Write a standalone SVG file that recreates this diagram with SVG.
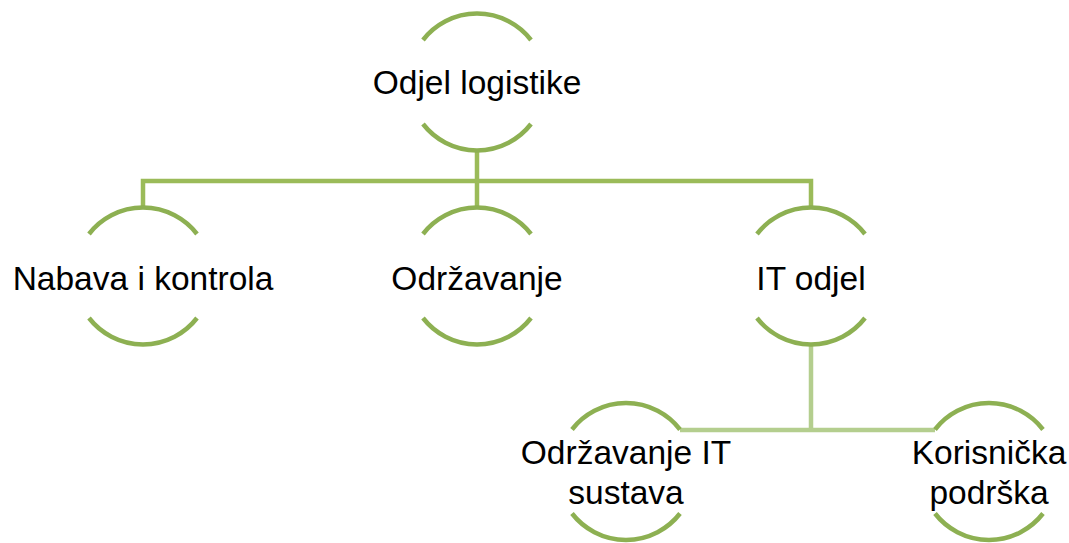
<svg xmlns="http://www.w3.org/2000/svg" width="1069" height="543" viewBox="0 0 1069 543">
<style>
.arc{fill:none;stroke:#8DB052;stroke-width:4.5}
.c1{fill:none;stroke:#9BBB59;stroke-width:4.5}
.c2{fill:none;stroke:#B4CE8E;stroke-width:4.5}
text{font-family:"Liberation Sans",Arial,sans-serif;font-size:33.5px;fill:#000;text-anchor:middle}
</style>
<rect width="1069" height="543" fill="#fff"/>
<g id="connectors">
<path class="c1" d="M477 150 V208 M143 208 V181 H811 V208"/>
<path class="c2" d="M811 344 V430 M680 430 H935"/>
</g>
<g id="n0">
<path class="arc" d="M423 40 A68.4 68.4 0 0 1 531 40 M423 124 A68.4 68.4 0 0 0 531 124"/>
<text x="477" y="94">Odjel logistike</text>
</g>
<g id="n1">
<path class="arc" d="M89 234 A68.4 68.4 0 0 1 197 234 M89 318 A68.4 68.4 0 0 0 197 318"/>
<text x="143" y="290">Nabava i kontrola</text>
</g>
<g id="n2">
<path class="arc" d="M423 234 A68.4 68.4 0 0 1 531 234 M423 318 A68.4 68.4 0 0 0 531 318"/>
<text x="477" y="290">Održavanje</text>
</g>
<g id="n3">
<path class="arc" d="M757 234 A68.4 68.4 0 0 1 865 234 M757 318 A68.4 68.4 0 0 0 865 318"/>
<text x="811" y="290">IT odjel</text>
</g>
<g id="n4">
<path class="arc" d="M572 429.5 A68.4 68.4 0 0 1 680 429.5 M572 513.5 A68.4 68.4 0 0 0 680 513.5"/>
<text x="626" y="464">Održavanje IT</text>
<text x="626" y="504">sustava</text>
</g>
<g id="n5">
<path class="arc" d="M935 429.5 A68.4 68.4 0 0 1 1043 429.5 M935 513.5 A68.4 68.4 0 0 0 1043 513.5"/>
<text x="989" y="464">Korisnička</text>
<text x="989" y="504">podrška</text>
</g>
</svg>
